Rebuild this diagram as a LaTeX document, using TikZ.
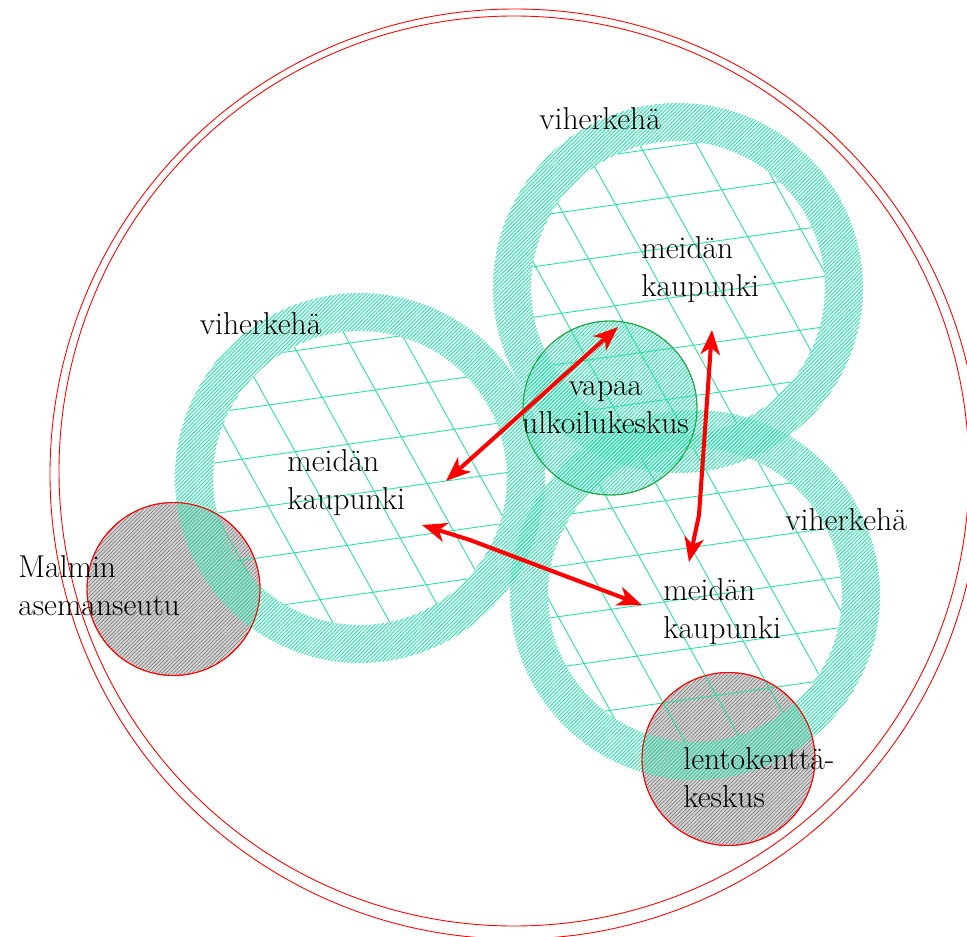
\documentclass[tikz,border=0pt]{standalone}
\usepackage{fontspec}
\usepackage{tikz}
\usetikzlibrary{patterns.meta, arrows.meta}
\definecolor{viher}{RGB}{40,222,170}
\definecolor{ruutu}{RGB}{40,225,160}
\definecolor{puisto}{RGB}{30,165,70}
\tikzset{
	teksti/.style={font=\fontsize{18}{21.5}\selectfont, inner sep=0pt},
	vyohyke/.style={even odd rule, pattern={Lines[angle=45, distance=1.5pt, line width=.5pt]}, pattern color=viher,
		preaction={even odd rule, fill=viher, fill opacity=.08}},
	keskus/.style={draw=red, line width=.5pt, pattern={Lines[angle=45, distance=1.5pt, line width=.3pt]}, pattern color=black!55,
		preaction={fill=gray!35}},
	ulkoilu/.style={draw=puisto, line width=.5pt, pattern={Lines[angle=45, distance=1.5pt, line width=.5pt]}, pattern color=viher,
		preaction={fill=viher, fill opacity=.08}},
	ruudukko/.style={draw=ruutu, line width=.5pt},
	raja/.style={draw=red, line width=.5pt},
	nuoli/.style={draw=red, line width=2.3pt, line join=round,
		{Stealth[length=14pt, width=11pt, inset=4pt]}-{Stealth[length=14pt, width=11pt, inset=4pt]}}
}
\begin{document}
\begin{tikzpicture}
		\useasboundingbox (0,0) rectangle (19.34,18.72);
		\clip (0,0) rectangle (19.34,18.72);

		\coordinate (R1) at (7.2, 9.16);
		\coordinate (R2) at (13.56, 12.96);
		\coordinate (R3) at (13.9, 6.82);
		\coordinate (U) at (12.2, 10.56);
		\coordinate (M) at (3.47, 6.94);
		\coordinate (L) at (14.57, 3.54);

		\draw [raja] (10.30, 9.24) circle (9.30);
		\draw [raja] (10.28, 9.30) circle (9.10);

		\path [keskus] (M) circle (1.73);
		\path [keskus] (L) circle (1.73);
		\path [ulkoilu] (U) circle (1.74);

		\path [vyohyke] (R1) circle (3.7) (R1) circle (2.94);
		\path [vyohyke] (R2) circle (3.7) (R2) circle (2.94);
		\path [vyohyke] (R3) circle (3.7) (R3) circle (2.94);

		\begin{scope}
			\clip (R1) circle (2.94) (R2) circle (2.94) (R3) circle (2.94);
			\begin{scope}[rotate=8]
				\foreach \k in {-4,...,20} \draw [ruudukko] (-5,\k+0.77) -- (25,\k+0.77);
			\end{scope}
			\begin{scope}[rotate=-61]
				\foreach \k in {-2,...,27} \draw [ruudukko] (-20,\k+0.86) -- (12,\k+0.86);
			\end{scope}
		\end{scope}

		\draw [raja] (M) circle (1.73);
		\draw [raja] (L) circle (1.73);
		\draw [draw=puisto, line width=.5pt] (U) circle (1.74);

		\coordinate (a1) at (8.92, 9.10);
		\coordinate (b1) at (12.36, 12.18);
		\coordinate (a2) at (14.24, 12.12);
		\coordinate (k2) at (13.98, 8.42);
		\coordinate (b2) at (13.78, 7.48);
		\coordinate (a3) at (8.44, 8.22);
		\coordinate (k3) at (9.40, 7.92);
		\coordinate (b3) at (12.84, 6.62);
		\draw [nuoli] (a1) -- (b1);
		\draw [nuoli] (a2) -- (k2) -- (b2);
		\draw [nuoli] (a3) -- (k3) -- (b3);

		\node [teksti, anchor=base] (vk1) at (12.0, 16.12) {viherkehä};
		\node [teksti, anchor=base] (vk2) at (5.21, 12.02) {viherkehä};
		\node [teksti, anchor=base] (vk3) at (16.92, 8.12) {viherkehä};
		\node [teksti, anchor=base west, align=left] (mk1) at (12.82, 12.80) {meidän\\kaupunki};
		\node [teksti, anchor=base west, align=left] (mk2) at (5.74, 8.54) {meidän\\kaupunki};
		\node [teksti, anchor=base west, align=left] (mk3) at (13.26, 5.96) {meidän\\kaupunki};
		\node [teksti, anchor=base, align=center] (uk) at (12.11, 10.06) {vapaa\\ulkoilukeskus};
		\node [teksti, anchor=base west, align=left] (ma) at (0.36, 6.42) {Malmin\\asemanseutu};
		\node [teksti, anchor=base west, align=left] (lk) at (13.66, 2.58) {lentokenttä-\\keskus};

	\end{tikzpicture}
\end{document}
